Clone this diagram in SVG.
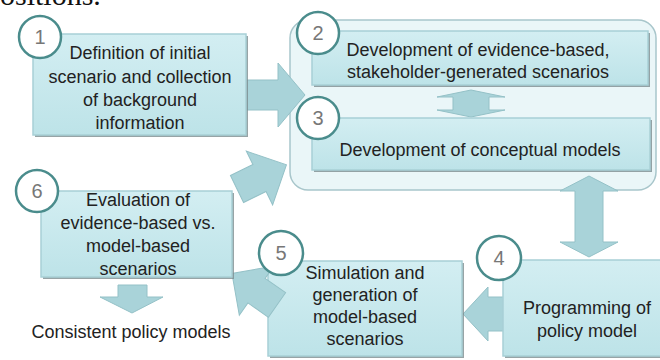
<svg xmlns="http://www.w3.org/2000/svg" width="660" height="360" viewBox="0 0 660 360">
<defs>
<linearGradient id="bg" x1="0" y1="0" x2="0" y2="1">
<stop offset="0" stop-color="#d3eef2"/>
<stop offset="1" stop-color="#bde3e8"/>
</linearGradient>
<style>
.box{fill:url(#bg);stroke:#a8d0d6;stroke-width:1.5}
.sh{fill:#7d8d90;opacity:0.8}
.arr{fill:#a9d3d9;stroke:#94c1c7;stroke-width:1}
.cir{fill:#fff;stroke:#4a8c8c;stroke-width:2.5}
.num{font-family:"Liberation Sans",Arial,sans-serif;font-size:20px;fill:#777;text-anchor:middle}
.t{font-family:"Liberation Sans",Arial,sans-serif;font-size:18px;fill:#222;text-anchor:middle}
</style>
</defs>
<rect width="660" height="360" fill="#fff"/>
<text x="0" y="5" font-family="Liberation Serif,serif" font-size="30" fill="#111">ositions.</text>

<rect x="290" y="20" width="366" height="170" rx="18" fill="#eaf6f8" stroke="#a8c6cb" stroke-width="1.5"/>

<g id="connectors">
<polygon class="arr" points="247,80 278,80 278,63 305,95 278,127 278,110 247,110"/>
<polygon class="arr" transform="translate(237,189) rotate(-26)" points="0,-15 25,-15 25,-30 55,0 25,30 25,15 0,15"/>
<polygon class="arr" points="453,97 437,97 471,90 505,97 489,97 489,110 505,110 471,117 437,110 453,110"/>
<polygon class="arr" points="575,191 560,191 589,176 618,191 603,191 603,242 618,242 589,257 560,242 575,242"/>
<polygon class="arr" points="505,297 488,297 488,287 463,314 488,341 488,331 505,331"/>
<polygon class="arr" points="118,285 147,285 147,297 163,297 132,313 100,297 118,297"/>
</g>

<g id="n1">
<rect class="sh" x="35" y="36" width="213" height="101"/>
<rect class="box" x="33" y="34" width="213" height="101"/>
<circle class="cir" cx="40" cy="37" r="21"/>
<text class="num" x="40" y="44">1</text>
<text class="t" x="140" y="59">Definition of initial</text>
<text class="t" x="140" y="83">scenario and collection</text>
<text class="t" x="140" y="106">of background</text>
<text class="t" x="140" y="129">information</text>
</g>

<g id="n2">
<rect class="sh" x="314" y="33" width="336" height="54"/>
<rect class="box" x="312" y="31" width="336" height="54"/>
<circle class="cir" cx="318" cy="33" r="21"/>
<text class="num" x="318" y="40">2</text>
<text class="t" x="478" y="56">Development of evidence-based,</text>
<text class="t" x="478" y="78">stakeholder-generated scenarios</text>
</g>

<g id="n3">
<rect class="sh" x="314" y="120" width="338" height="52"/>
<rect class="box" x="312" y="118" width="338" height="52"/>
<circle class="cir" cx="318" cy="118" r="21"/>
<text class="num" x="318" y="125">3</text>
<text class="t" x="480" y="156">Development of conceptual models</text>
</g>

<g id="n4">
<rect class="sh" x="505" y="262" width="160" height="96"/>
<rect class="box" x="503" y="260" width="160" height="96"/>
<circle class="cir" cx="499" cy="258" r="22"/>
<text class="num" x="499" y="265">4</text>
<text class="t" x="587" y="314">Programming of</text>
<text class="t" x="587" y="337">policy model</text>
</g>

<g id="n5">
<rect class="sh" x="270" y="263" width="194" height="95"/>
<rect class="box" x="268" y="261" width="194" height="95"/>
<polygon class="arr" transform="translate(277,305) rotate(-145)" points="0,-15 25,-15 25,-30 55,0 25,30 25,15 0,15"/>
<circle class="cir" cx="281" cy="253" r="22"/>
<text class="num" x="281" y="260">5</text>
<text class="t" x="365" y="279">Simulation and</text>
<text class="t" x="365" y="301">generation of</text>
<text class="t" x="365" y="323">model-based</text>
<text class="t" x="365" y="345">scenarios</text>
</g>

<g id="n6">
<rect class="sh" x="43" y="193" width="191" height="86"/>
<rect class="box" x="41" y="191" width="191" height="86"/>
<circle class="cir" cx="37" cy="191" r="21"/>
<text class="num" x="37" y="198">6</text>
<text class="t" x="138" y="206">Evaluation of</text>
<text class="t" x="138" y="229">evidence-based vs.</text>
<text class="t" x="138" y="252">model-based</text>
<text class="t" x="138" y="275">scenarios</text>
</g>

<g id="out">
<text class="t" x="131" y="338">Consistent policy models</text>
</g>
</svg>
